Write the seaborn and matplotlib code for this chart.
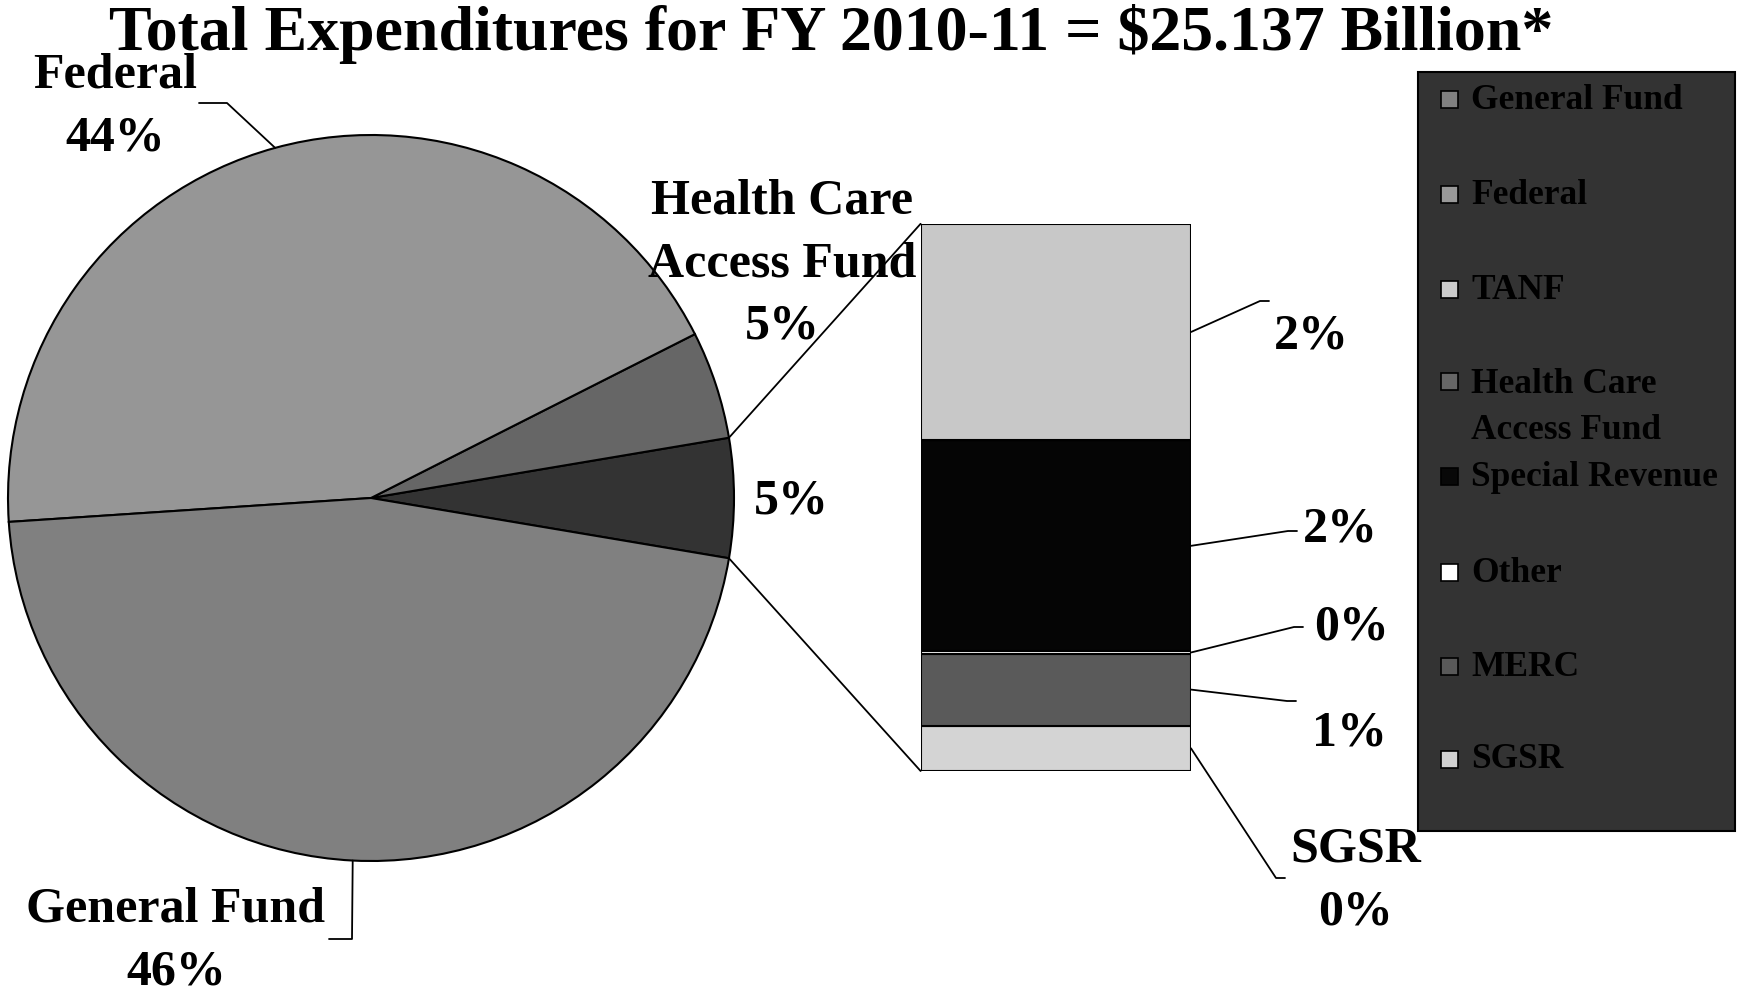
import matplotlib
matplotlib.use('Agg')
import matplotlib.pyplot as plt
import seaborn as sns
import numpy as np
from matplotlib.patches import Rectangle, ConnectionPatch

# main pie series (percent of total)
pie_names = ['General Fund', 'Federal', 'Health Care\nAccess Fund']
pie_values = [46.3, 43.6, 4.8]

# breakout bar series, bottom to top
bar_names = ['SGSR', 'MERC', 'Other', 'Special Revenue', 'TANF']
bar_values = [0.44, 0.7, 0.02, 2.05, 2.1]

legend_names = ['General Fund', 'Federal', 'TANF', 'Health Care\nAccess Fund',
                'Special Revenue', 'Other', 'MERC', 'SGSR']
legend_colors = ['#808080', '#999999', '#cbcbcb', '#666666',
                 '#080808', '#ffffff', '#595959', '#d0d0d0']

title = 'Total Expenditures for FY 2010-11 = $25.137 Billion*'

sns.set_theme(style='white')
plt.rcParams['font.family'] = ['Liberation Serif', 'DejaVu Serif']
plt.rcParams['font.weight'] = 'bold'
plt.rcParams['text.color'] = 'black'

W, H = 1737, 997
fig = plt.figure(figsize=(W / 100, H / 100), dpi=100)
ax = fig.add_axes([0, 0, 1, 1])

def Y(y):
    # layout helper: pixels from the top
    return H - y

total = sum(pie_values) + sum(bar_values)
rest = sum(bar_values)
start = -rest / total * 180

cx, cy, r = 371, Y(498), 363
wedges, _ = ax.pie([rest, pie_values[2], pie_values[1], pie_values[0]],
                   colors=['#333333', '#666666', '#969696', '#808080'],
                   startangle=start, counterclock=True, center=(cx, cy), radius=r,
                   wedgeprops=dict(edgecolor='black', linewidth=1.5))
ax.set_xlim(0, W)
ax.set_ylim(0, H)
ax.set_aspect('equal')
ax.axis('off')

def edge(w):
    a = np.deg2rad((w.theta1 + w.theta2) / 2)
    return cx + r * np.cos(a), cy + r * np.sin(a)

def pct(v):
    return f'{round(v / total * 100):.0f}%'

fs = 36
ls = 1.46
# Federal label
ex, ey = edge(wedges[2])
ax.plot([199, 227, ex], [Y(103), Y(103), ey], color='black', lw=1.3)
ax.text(115, Y(107), f'{pie_names[1]}\n{pct(pie_values[1])}', ha='center', va='center',
        fontsize=fs, fontweight='bold', linespacing=ls)
# General Fund label
ex, ey = edge(wedges[3])
ax.plot([329, 352, ex], [Y(939), Y(939), ey], color='black', lw=1.3)
ax.text(176, Y(941), f'{pie_names[0]}\n{pct(pie_values[0])}', ha='center', va='center',
        fontsize=fs, fontweight='bold', linespacing=ls)
# HCAF label
ax.text(782, Y(264), f'{pie_names[2]}\n{pct(pie_values[2])}', ha='center', va='center',
        fontsize=fs, fontweight='bold', linespacing=ls)
# combined slice label
ax.text(791, Y(501), pct(rest), ha='center', va='center', fontsize=fs, fontweight='bold')

# breakout bar
bx0, bx1, by0, by1 = 920.6, 1191, 223.8, 771
bax = fig.add_axes([bx0 / W, (H - by1) / H, (bx1 - bx0) / W, (by1 - by0) / H])
bar_colors = ['#d4d4d4', '#5a5a5a', '#ffffff', '#050505', '#c8c8c8']
bottoms = np.concatenate([[0], np.cumsum(bar_values)[:-1]])
bax.bar([0] * len(bar_values), bar_values, bottom=bottoms, width=1.0,
        color=bar_colors, edgecolor='black', linewidth=1.5)
bax.set_xlim(-0.5, 0.5)
bax.set_ylim(0, rest)
bax.axis('off')

# connectors pie -> bar
for w_ang, by in [(wedges[0].theta2, rest), (wedges[0].theta1, 0)]:
    a = np.deg2rad(w_ang)
    con = ConnectionPatch(xyA=(cx + r * np.cos(a), cy + r * np.sin(a)), coordsA=ax.transData,
                          xyB=(-0.5, by), coordsB=bax.transData, color='black', lw=1.3)
    fig.add_artist(con)

# bar labels: (elbow x, elbow y, text x, text y) in pixels from top-left
bar_label_pos = [
    (1276, 878, 1356, 881),
    (1287, 701, 1349, 733),
    (1294, 627, 1352, 627),
    (1288, 531, 1340, 530),
    (1260, 301, 1311, 336),
]
to_main = ax.transData.inverted()
for name, v, b, (lx, ly, tx, ty) in zip(bar_names, bar_values, bottoms, bar_label_pos):
    sx, sy = to_main.transform(bax.transData.transform((0.5, b + v / 2)))
    ax.plot([sx, lx, lx + 9], [sy, Y(ly), Y(ly)], color='black', lw=1.3)
    txt = pct(v) if name != 'SGSR' else f'{name}\n{pct(v)}'
    ax.text(tx, Y(ty), txt, ha='center', va='center', fontsize=fs,
            fontweight='bold', linespacing=ls)

# legend box
ax.add_patch(Rectangle((1418, Y(831)), 317, 759, facecolor='#333333',
                       edgecolor='black', lw=1.5, zorder=5))
legend_y = [100, 195, 290, 382, 477, 573, 667, 760]
for name, col, ly in zip(legend_names, legend_colors, legend_y):
    ax.add_patch(Rectangle((1441, Y(ly) - 8), 17, 17, facecolor=col,
                           edgecolor='black', lw=1.2, zorder=6))
    if '\n' in name:
        ax.text(1471, Y(ly) + 14, name, ha='left', va='top', fontsize=25.5,
                fontweight='bold', color='black', zorder=7, linespacing=1.5)
    else:
        ax.text(1471, Y(ly), name, ha='left', va='center', fontsize=25.5,
                fontweight='bold', color='black', zorder=7)

fig.text(831 / W, 1 - 34 / H, title, ha='center', va='center', fontsize=46,
         fontweight='bold', color='black')

fig.savefig('out.png', dpi=100)
